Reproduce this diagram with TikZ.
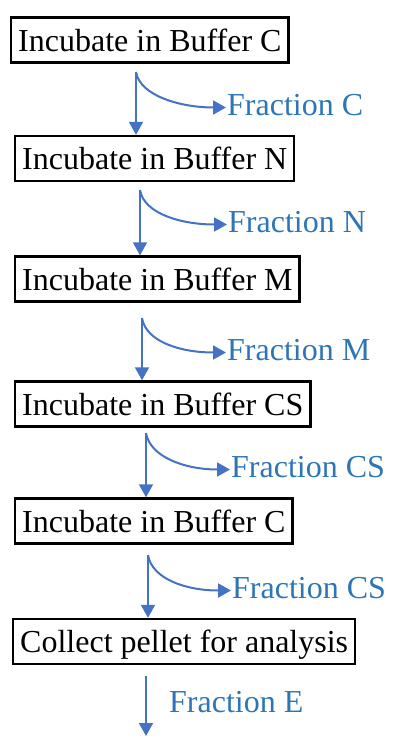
\documentclass[tikz,border=0pt]{standalone}
\usepackage{fontspec}
\setmainfont{Liberation Serif}
\usetikzlibrary{arrows.meta}
\definecolor{flowblue}{RGB}{68,114,196}
\definecolor{fracblue}{RGB}{46,117,182}

\begin{document}
\begin{tikzpicture}[x=1pt, y=-1pt, font=\fontsize{32}{36}\selectfont,
		stepbox/.style={draw, line width=2.4pt, anchor=west, inner xsep=7pt, inner ysep=7.5pt, text height=26pt, text depth=4pt},
		flow/.style={draw=flowblue, line width=2pt, -{Triangle[width=14pt,length=13pt]}},
		frac/.style={text=fracblue, anchor=west, inner sep=1pt, text height=22pt, text depth=7pt}]
		\useasboundingbox (0,0) rectangle (393,739);
		% steps
		\node[stepbox] (b1) at (10,40) {Incubate in Buffer C};
		\node[stepbox] (b2) at (14,158.5) {Incubate in Buffer N};
		\node[stepbox] (b3) at (14,279) {Incubate in Buffer M};
		\node[stepbox] (b4) at (14,404) {Incubate in Buffer CS};
		\node[stepbox] (b5) at (14,521) {Incubate in Buffer C};
		\node[stepbox] (b6) at (12,641.5) {Collect pellet for analysis};
		% fractions
		\node[frac] (f1) at (226,107.5) {Fraction C};
		\node[frac] (f2) at (227,224.5) {Fraction N};
		\node[frac] (f3) at (226,352.5) {Fraction M};
		\node[frac] (f4) at (230,469.5) {Fraction CS};
		\node[frac] (f5) at (231,590.5) {Fraction CS};
		\node[frac] (f6) at (168,704.5) {Fraction E};
		% branch points
		\coordinate (s1) at (136,72);
		\coordinate (s2) at (140,190);
		\coordinate (s3) at (142,318);
		\coordinate (s4) at (146,433);
		\coordinate (s5) at (148,555);
		\coordinate (s6) at (146,676);
		\coordinate (e6) at (146,736);
		\foreach \i/\j in {1/2,2/3,3/4,4/5,5/6} {
			\draw[flow] (s\i) -- (s\i |- b\j.north);
			\draw[flow] (s\i) .. controls +(4,24) and +(-45,0) .. (f\i.west);
		}
		\draw[flow] (s6) -- (e6);
	\end{tikzpicture}
\end{document}
